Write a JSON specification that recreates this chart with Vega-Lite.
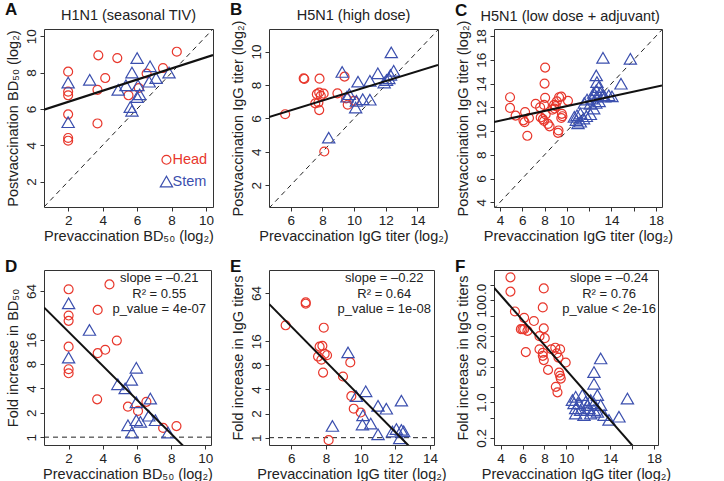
{
  "$schema": "https://vega.github.io/schema/vega-lite/v6.json",
  "background": "white",
  "padding": {"left": 4, "top": 0, "right": 5, "bottom": 0},
  "columns": 3,
  "spacing": {"row": 63, "column": 56},
  "bounds": "flush",
  "config": {
    "font": "Liberation Sans",
    "view": {"stroke": "#333", "strokeWidth": 1},
    "axis": {"domain": false, "grid": false, "tickColor": "#333", "tickSize": 4, "labelFontSize": 13.5, "labelColor": "#222", "titleFontSize": 14.5, "titleFontWeight": "normal", "titleColor": "#222", "labelPadding": 2, "titlePadding": 3, "labelFont": "Liberation Sans", "titleFont": "Liberation Sans", "labelFlush": false, "labelBound": false, "labelOverlap": false},
    "axisY": {"labelAngle": -90, "labelAlign": "center", "labelBaseline": "bottom", "titlePadding": 4},
    "title": {"fontSize": 17, "fontWeight": "bold", "anchor": "start", "frame": "bounds", "color": "#111", "baseline": "alphabetic", "font": "Liberation Sans"},
    "text": {"font": "Liberation Sans", "color": "#222"}
  },
  "datasets": {
    "A_pts": [
      {"pre": 2, "post": 8.05, "group": "Head"}, {"pre": 2, "post": 6.95, "group": "Head"}, {"pre": 2, "post": 6.75, "group": "Head"}, {"pre": 2, "post": 5.7, "group": "Head"}, {"pre": 2, "post": 4.4, "group": "Head"}, {"pre": 2, "post": 4.25, "group": "Head"}, {"pre": 3.75, "post": 8.95, "group": "Head"}, {"pre": 3.7, "post": 7.05, "group": "Head"}, {"pre": 3.7, "post": 5.2, "group": "Head"}, {"pre": 4.15, "post": 7.7, "group": "Head"}, {"pre": 4.85, "post": 8.8, "group": "Head"}, {"pre": 5.5, "post": 6.75, "group": "Head"}, {"pre": 6.1, "post": 7.15, "group": "Head"}, {"pre": 6.55, "post": 7.95, "group": "Head"}, {"pre": 7.5, "post": 8.25, "group": "Head"}, {"pre": 8.3, "post": 9.15, "group": "Head"},
      {"pre": 2, "post": 7.45, "group": "Stem"}, {"pre": 2, "post": 5.27, "group": "Stem"}, {"pre": 3.25, "post": 7.6, "group": "Stem"}, {"pre": 4.9, "post": 7.05, "group": "Stem"}, {"pre": 5.35, "post": 7.3, "group": "Stem"}, {"pre": 5.7, "post": 8.0, "group": "Stem"}, {"pre": 6.0, "post": 8.8, "group": "Stem"}, {"pre": 5.6, "post": 6.1, "group": "Stem"}, {"pre": 5.7, "post": 5.9, "group": "Stem"}, {"pre": 6.05, "post": 7.3, "group": "Stem"}, {"pre": 6.15, "post": 6.8, "group": "Stem"}, {"pre": 6.0, "post": 6.65, "group": "Stem"}, {"pre": 6.7, "post": 7.5, "group": "Stem"}, {"pre": 6.75, "post": 8.35, "group": "Stem"}, {"pre": 7.1, "post": 7.7, "group": "Stem"}, {"pre": 7.85, "post": 8.0, "group": "Stem"}
    ],
    "A_fit": [{"pre": 0.6, "post": 5.96}, {"pre": 10.4, "post": 8.97}],
    "A_diag": [{"pre": 0.6, "post": 0.6}, {"pre": 10.4, "post": 10.4}],
    "A_name": [{"label": "H1N1 (seasonal TIV)"}],
    "A_legend": [{"group": "Head"}, {"group": "Stem"}],
    "B_pts": [
      {"pre": 5.65, "post": 6.25, "group": "Head"}, {"pre": 6.82, "post": 8.4, "group": "Head"}, {"pre": 6.86, "post": 8.36, "group": "Head"}, {"pre": 7.82, "post": 8.38, "group": "Head"}, {"pre": 7.65, "post": 7.45, "group": "Head"}, {"pre": 7.8, "post": 7.55, "group": "Head"}, {"pre": 8.08, "post": 7.48, "group": "Head"}, {"pre": 7.9, "post": 7.35, "group": "Head"}, {"pre": 7.55, "post": 6.9, "group": "Head"}, {"pre": 7.75, "post": 6.95, "group": "Head"}, {"pre": 7.8, "post": 6.5, "group": "Head"}, {"pre": 8.95, "post": 7.5, "group": "Head"}, {"pre": 9.4, "post": 8.5, "group": "Head"}, {"pre": 9.5, "post": 7.2, "group": "Head"}, {"pre": 9.6, "post": 6.82, "group": "Head"}, {"pre": 10.0, "post": 7.05, "group": "Head"}, {"pre": 8.12, "post": 4.02, "group": "Head"},
      {"pre": 8.4, "post": 4.85, "group": "Stem"}, {"pre": 9.25, "post": 8.78, "group": "Stem"}, {"pre": 9.7, "post": 7.45, "group": "Stem"}, {"pre": 9.55, "post": 7.3, "group": "Stem"}, {"pre": 10.25, "post": 8.2, "group": "Stem"}, {"pre": 10.1, "post": 6.65, "group": "Stem"}, {"pre": 10.15, "post": 7.05, "group": "Stem"}, {"pre": 10.55, "post": 7.15, "group": "Stem"}, {"pre": 11.0, "post": 7.12, "group": "Stem"}, {"pre": 11.0, "post": 8.25, "group": "Stem"}, {"pre": 11.5, "post": 8.7, "group": "Stem"}, {"pre": 12.35, "post": 9.95, "group": "Stem"}, {"pre": 11.9, "post": 8.15, "group": "Stem"}, {"pre": 12.05, "post": 8.3, "group": "Stem"}, {"pre": 12.3, "post": 8.6, "group": "Stem"}, {"pre": 12.5, "post": 8.85, "group": "Stem"}, {"pre": 12.2, "post": 8.4, "group": "Stem"}
    ],
    "B_fit": [{"pre": 4.63, "post": 6.08}, {"pre": 15.3, "post": 9.2}],
    "B_diag": [{"pre": 4.63, "post": 0.63}, {"pre": 15.3, "post": 11.3}],
    "B_name": [{"label": "H5N1 (high dose)"}],
    "C_pts": [
      {"pre": 4.9, "post": 12.85, "group": "Head"}, {"pre": 4.9, "post": 11.95, "group": "Head"}, {"pre": 5.4, "post": 11.3, "group": "Head"}, {"pre": 6.25, "post": 11.6, "group": "Head"}, {"pre": 6.1, "post": 10.9, "group": "Head"}, {"pre": 6.2, "post": 10.75, "group": "Head"}, {"pre": 6.6, "post": 11.1, "group": "Head"}, {"pre": 6.45, "post": 9.6, "group": "Head"}, {"pre": 7.2, "post": 12.3, "group": "Head"}, {"pre": 7.6, "post": 12.0, "group": "Head"}, {"pre": 8.05, "post": 15.35, "group": "Head"}, {"pre": 8.0, "post": 14.0, "group": "Head"}, {"pre": 8.05, "post": 12.8, "group": "Head"}, {"pre": 7.95, "post": 12.2, "group": "Head"}, {"pre": 7.65, "post": 11.15, "group": "Head"}, {"pre": 7.85, "post": 11.0, "group": "Head"}, {"pre": 8.1, "post": 11.4, "group": "Head"}, {"pre": 7.95, "post": 10.85, "group": "Head"}, {"pre": 8.3, "post": 10.6, "group": "Head"}, {"pre": 8.45, "post": 10.4, "group": "Head"}, {"pre": 8.7, "post": 11.8, "group": "Head"}, {"pre": 8.85, "post": 12.2, "group": "Head"}, {"pre": 9.1, "post": 12.5, "group": "Head"}, {"pre": 9.3, "post": 12.85, "group": "Head"}, {"pre": 9.5, "post": 12.9, "group": "Head"}, {"pre": 8.9, "post": 11.9, "group": "Head"}, {"pre": 9.55, "post": 11.45, "group": "Head"}, {"pre": 9.6, "post": 11.25, "group": "Head"}, {"pre": 9.5, "post": 11.1, "group": "Head"}, {"pre": 9.25, "post": 10.05, "group": "Head"}, {"pre": 9.2, "post": 9.85, "group": "Head"}, {"pre": 10.1, "post": 12.55, "group": "Head"}, {"pre": 9.0, "post": 12.1, "group": "Head"},
      {"pre": 13.24, "post": 16.17, "group": "Stem"}, {"pre": 15.7, "post": 16.09, "group": "Stem"}, {"pre": 14.86, "post": 13.99, "group": "Stem"}, {"pre": 12.64, "post": 14.69, "group": "Stem"}, {"pre": 12.7, "post": 14.13, "group": "Stem"}, {"pre": 12.86, "post": 13.71, "group": "Stem"}, {"pre": 12.64, "post": 13.43, "group": "Stem"}, {"pre": 12.41, "post": 13.21, "group": "Stem"}, {"pre": 13.0, "post": 13.21, "group": "Stem"}, {"pre": 13.24, "post": 13.01, "group": "Stem"}, {"pre": 13.76, "post": 13.01, "group": "Stem"}, {"pre": 14.05, "post": 12.92, "group": "Stem"}, {"pre": 13.4, "post": 12.9, "group": "Stem"}, {"pre": 12.7, "post": 12.92, "group": "Stem"}, {"pre": 12.26, "post": 12.73, "group": "Stem"}, {"pre": 11.81, "post": 12.65, "group": "Stem"}, {"pre": 11.57, "post": 12.37, "group": "Stem"}, {"pre": 12.1, "post": 12.3, "group": "Stem"}, {"pre": 12.6, "post": 12.37, "group": "Stem"}, {"pre": 12.9, "post": 12.5, "group": "Stem"}, {"pre": 12.41, "post": 11.89, "group": "Stem"}, {"pre": 12.11, "post": 11.42, "group": "Stem"}, {"pre": 11.75, "post": 11.25, "group": "Stem"}, {"pre": 11.21, "post": 11.48, "group": "Stem"}, {"pre": 10.91, "post": 11.33, "group": "Stem"}, {"pre": 10.67, "post": 11.2, "group": "Stem"}, {"pre": 10.85, "post": 10.93, "group": "Stem"}, {"pre": 11.21, "post": 10.79, "group": "Stem"}, {"pre": 11.0, "post": 10.65, "group": "Stem"}, {"pre": 11.5, "post": 11.06, "group": "Stem"}
    ],
    "C_fit": [{"pre": 3.46, "post": 10.77}, {"pre": 18.54, "post": 13.84}],
    "C_diag": [{"pre": 3.4, "post": 3.4}, {"pre": 18.6, "post": 18.6}],
    "C_name": [{"label": "H5N1 (low dose + adjuvant)"}],
    "D_pts": [
      {"pre": 2, "fold": 67, "group": "Head"}, {"pre": 2, "fold": 31.8, "group": "Head"}, {"pre": 2, "fold": 27.3, "group": "Head"}, {"pre": 2, "fold": 13.1, "group": "Head"}, {"pre": 2, "fold": 6.9, "group": "Head"}, {"pre": 2, "fold": 6.15, "group": "Head"}, {"pre": 4.39, "fold": 77, "group": "Head"}, {"pre": 3.7, "fold": 37.3, "group": "Head"}, {"pre": 3.7, "fold": 10.9, "group": "Head"}, {"pre": 4.14, "fold": 12, "group": "Head"}, {"pre": 4.82, "fold": 15.6, "group": "Head"}, {"pre": 3.67, "fold": 2.93, "group": "Head"}, {"pre": 5.47, "fold": 2.38, "group": "Head"}, {"pre": 6.06, "fold": 2.11, "group": "Head"}, {"pre": 6.55, "fold": 2.73, "group": "Head"}, {"pre": 7.53, "fold": 1.3, "group": "Head"}, {"pre": 8.31, "fold": 1.37, "group": "Head"},
      {"pre": 2, "fold": 45, "group": "Stem"}, {"pre": 2, "fold": 9.6, "group": "Stem"}, {"pre": 3.22, "fold": 21.1, "group": "Stem"}, {"pre": 4.88, "fold": 4.5, "group": "Stem"}, {"pre": 5.31, "fold": 4.0, "group": "Stem"}, {"pre": 5.67, "fold": 5.1, "group": "Stem"}, {"pre": 5.96, "fold": 7.2, "group": "Stem"}, {"pre": 5.47, "fold": 1.4, "group": "Stem"}, {"pre": 5.7, "fold": 1.14, "group": "Stem"}, {"pre": 5.96, "fold": 2.7, "group": "Stem"}, {"pre": 6.2, "fold": 1.55, "group": "Stem"}, {"pre": 5.96, "fold": 1.62, "group": "Stem"}, {"pre": 6.69, "fold": 1.84, "group": "Stem"}, {"pre": 6.78, "fold": 3.0, "group": "Stem"}, {"pre": 7.08, "fold": 1.62, "group": "Stem"}, {"pre": 7.82, "fold": 1.14, "group": "Stem"}
    ],
    "D_fit": [{"pre": 0.56, "fold": 40}, {"pre": 10.33, "fold": 0.356}],
    "D_one": [{"pre": 0.56, "fold": 1}, {"pre": 10.33, "fold": 1}],
    "D_stats": [{"label": "slope = –0.21\nR² = 0.55\np_value = 4e-07"}],
    "E_pts": [
      {"pre": 5.67, "fold": 25.3, "group": "Head"}, {"pre": 6.83, "fold": 49, "group": "Head"}, {"pre": 6.83, "fold": 47, "group": "Head"}, {"pre": 7.87, "fold": 23.6, "group": "Head"}, {"pre": 7.63, "fold": 13.7, "group": "Head"}, {"pre": 7.79, "fold": 14.0, "group": "Head"}, {"pre": 7.54, "fold": 10.3, "group": "Head"}, {"pre": 7.73, "fold": 9.4, "group": "Head"}, {"pre": 8.06, "fold": 10.7, "group": "Head"}, {"pre": 7.92, "fold": 11.1, "group": "Head"}, {"pre": 7.83, "fold": 6.5, "group": "Head"}, {"pre": 8.98, "fold": 5.8, "group": "Head"}, {"pre": 9.4, "fold": 8.7, "group": "Head"}, {"pre": 9.46, "fold": 3.3, "group": "Head"}, {"pre": 9.6, "fold": 2.3, "group": "Head"}, {"pre": 10.0, "fold": 2.06, "group": "Head"}, {"pre": 8.15, "fold": 0.93, "group": "Head"},
      {"pre": 8.37, "fold": 1.4, "group": "Stem"}, {"pre": 9.27, "fold": 11.6, "group": "Stem"}, {"pre": 9.75, "fold": 3.3, "group": "Stem"}, {"pre": 10.29, "fold": 3.8, "group": "Stem"}, {"pre": 10.13, "fold": 1.9, "group": "Stem"}, {"pre": 10.1, "fold": 1.46, "group": "Stem"}, {"pre": 10.58, "fold": 1.5, "group": "Stem"}, {"pre": 11.0, "fold": 1.1, "group": "Stem"}, {"pre": 11.0, "fold": 2.5, "group": "Stem"}, {"pre": 11.48, "fold": 2.3, "group": "Stem"}, {"pre": 12.35, "fold": 2.9, "group": "Stem"}, {"pre": 11.83, "fold": 1.19, "group": "Stem"}, {"pre": 12.06, "fold": 1.28, "group": "Stem"}, {"pre": 12.35, "fold": 1.25, "group": "Stem"}, {"pre": 12.48, "fold": 1.2, "group": "Stem"}, {"pre": 12.25, "fold": 0.98, "group": "Stem"}
    ],
    "E_fit": [{"pre": 4.71, "fold": 46.8}, {"pre": 14.23, "fold": 0.38}],
    "E_one": [{"pre": 4.71, "fold": 1}, {"pre": 14.23, "fold": 1}],
    "E_stats": [{"label": "slope = –0.22\nR² = 0.64\np_value = 1e-08"}],
    "F_pts": [
      {"pre": 4.9, "fold": 280, "group": "Head"}, {"pre": 4.9, "fold": 147, "group": "Head"}, {"pre": 5.31, "fold": 60, "group": "Head"}, {"pre": 6.15, "fold": 45, "group": "Head"}, {"pre": 6.0, "fold": 27, "group": "Head"}, {"pre": 6.15, "fold": 27, "group": "Head"}, {"pre": 6.45, "fold": 25, "group": "Head"}, {"pre": 6.3, "fold": 9.6, "group": "Head"}, {"pre": 7.04, "fold": 39, "group": "Head"}, {"pre": 7.55, "fold": 19.7, "group": "Head"}, {"pre": 7.94, "fold": 170, "group": "Head"}, {"pre": 7.85, "fold": 72, "group": "Head"}, {"pre": 7.94, "fold": 28, "group": "Head"}, {"pre": 8.03, "fold": 18, "group": "Head"}, {"pre": 7.55, "fold": 10.9, "group": "Head"}, {"pre": 7.85, "fold": 9.3, "group": "Head"}, {"pre": 7.85, "fold": 8.1, "group": "Head"}, {"pre": 7.94, "fold": 6.7, "group": "Head"}, {"pre": 8.33, "fold": 4.3, "group": "Head"}, {"pre": 8.63, "fold": 10.9, "group": "Head"}, {"pre": 8.99, "fold": 11.7, "group": "Head"}, {"pre": 9.13, "fold": 9.1, "group": "Head"}, {"pre": 9.28, "fold": 7.5, "group": "Head"}, {"pre": 9.43, "fold": 10.9, "group": "Head"}, {"pre": 9.34, "fold": 3.8, "group": "Head"}, {"pre": 9.43, "fold": 3.3, "group": "Head"}, {"pre": 9.49, "fold": 2.9, "group": "Head"}, {"pre": 9.04, "fold": 2.0, "group": "Head"}, {"pre": 9.19, "fold": 1.56, "group": "Head"}, {"pre": 9.94, "fold": 6.0, "group": "Head"}, {"pre": 5.85, "fold": 27, "group": "Head"},
      {"pre": 13.13, "fold": 7.2, "group": "Stem"}, {"pre": 12.52, "fold": 3.9, "group": "Stem"}, {"pre": 12.52, "fold": 2.3, "group": "Stem"}, {"pre": 15.57, "fold": 1.18, "group": "Stem"}, {"pre": 10.85, "fold": 1.28, "group": "Stem"}, {"pre": 11.46, "fold": 1.38, "group": "Stem"}, {"pre": 12.83, "fold": 1.38, "group": "Stem"}, {"pre": 12.22, "fold": 1.1, "group": "Stem"}, {"pre": 10.7, "fold": 0.95, "group": "Stem"}, {"pre": 11.16, "fold": 0.95, "group": "Stem"}, {"pre": 11.76, "fold": 1.02, "group": "Stem"}, {"pre": 12.52, "fold": 0.95, "group": "Stem"}, {"pre": 13.13, "fold": 0.88, "group": "Stem"}, {"pre": 10.85, "fold": 0.76, "group": "Stem"}, {"pre": 11.3, "fold": 0.7, "group": "Stem"}, {"pre": 12.07, "fold": 0.76, "group": "Stem"}, {"pre": 12.52, "fold": 0.7, "group": "Stem"}, {"pre": 10.85, "fold": 0.6, "group": "Stem"}, {"pre": 11.61, "fold": 0.56, "group": "Stem"}, {"pre": 12.22, "fold": 0.6, "group": "Stem"}, {"pre": 13.44, "fold": 0.56, "group": "Stem"}, {"pre": 13.89, "fold": 0.45, "group": "Stem"}, {"pre": 14.8, "fold": 0.52, "group": "Stem"}, {"pre": 12.83, "fold": 0.65, "group": "Stem"}, {"pre": 11.92, "fold": 0.88, "group": "Stem"}, {"pre": 10.55, "fold": 1.1, "group": "Stem"}
    ],
    "F_fit": [{"pre": 3.4, "fold": 176}, {"pre": 18.36, "fold": 0.038}],
    "F_stats": [{"label": "slope = –0.24\nR² = 0.76\np_value < 2e-16"}]
  },
  "concat": [
    {
      "width": 169, "height": 178,
      "title": {"text": "A", "offset": -11},
      "layer": [
        {"data": {"name": "A_diag"}, "mark": {"type": "line", "clip": true, "color": "#222", "strokeWidth": 1, "strokeDash": [5, 4]},
         "encoding": {
           "x": {"field": "pre", "type": "quantitative", "scale": {"domain": [0.6, 10.4], "nice": false, "zero": false}, "axis": {"values": [2, 4, 6, 8, 10], "format": "d", "title": "Prevaccination BD₅₀ (log₂)"}},
           "y": {"field": "post", "type": "quantitative", "scale": {"domain": [0.6, 10.4], "nice": false, "zero": false}, "axis": {"values": [2, 4, 6, 8, 10], "format": "d", "title": "Postvaccination BD₅₀ (log₂)"}}}},
        {"data": {"name": "A_pts"}, "mark": {"type": "point", "filled": false, "strokeWidth": 1.2, "opacity": 1},
         "encoding": {
           "x": {"field": "pre", "type": "quantitative"},
           "y": {"field": "post", "type": "quantitative"},
           "color": {"field": "group", "type": "nominal", "scale": {"domain": ["Head", "Stem"], "range": ["#e8372c", "#3b4fae"]}, "legend": null},
           "shape": {"field": "group", "type": "nominal", "scale": {"domain": ["Head", "Stem"], "range": ["circle", "triangle-up"]}, "legend": null},
           "size": {"field": "group", "type": "nominal", "scale": {"domain": ["Head", "Stem"], "range": [80, 150]}, "legend": null}}},
        {"data": {"name": "A_fit"}, "mark": {"type": "line", "clip": true, "color": "#111", "strokeWidth": 2.3},
         "encoding": {"x": {"field": "pre", "type": "quantitative"}, "y": {"field": "post", "type": "quantitative"}}},
        {"data": {"name": "A_name"}, "mark": {"type": "text", "fontSize": 14.5, "baseline": "middle", "align": "center"},
         "encoding": {"x": {"datum": 5.5, "type": "quantitative"}, "y": {"datum": 11.1, "type": "quantitative"}, "text": {"field": "label"}}},
        {"data": {"name": "A_legend"}, "transform": [{"filter": "datum.group == 'Head'"}],
         "encoding": {"y": {"datum": 3.2, "type": "quantitative"}, "color": {"field": "group", "type": "nominal", "legend": null}},
         "layer": [
           {"mark": {"type": "point", "filled": false, "strokeWidth": 1.2, "opacity": 1},
            "encoding": {"x": {"datum": 7.7, "type": "quantitative"}, "shape": {"field": "group", "type": "nominal", "legend": null}, "size": {"field": "group", "type": "nominal", "legend": null}}},
           {"mark": {"type": "text", "fontSize": 14.5, "align": "left", "baseline": "middle"},
            "encoding": {"x": {"datum": 8.05, "type": "quantitative"}, "text": {"field": "group"}}}
         ]},
        {"data": {"name": "A_legend"}, "transform": [{"filter": "datum.group == 'Stem'"}],
         "encoding": {"y": {"datum": 2.0, "type": "quantitative"}, "color": {"field": "group", "type": "nominal", "legend": null}},
         "layer": [
           {"mark": {"type": "point", "filled": false, "strokeWidth": 1.2, "opacity": 1},
            "encoding": {"x": {"datum": 7.7, "type": "quantitative"}, "shape": {"field": "group", "type": "nominal", "legend": null}, "size": {"field": "group", "type": "nominal", "legend": null}}},
           {"mark": {"type": "text", "fontSize": 14.5, "align": "left", "baseline": "middle"},
            "encoding": {"x": {"datum": 8.05, "type": "quantitative"}, "text": {"field": "group"}}}
         ]}
      ]
    },
    {
      "width": 169, "height": 178,
      "title": {"text": "B", "offset": -11},
      "layer": [
        {"data": {"name": "B_diag"}, "mark": {"type": "line", "clip": true, "color": "#222", "strokeWidth": 1, "strokeDash": [5, 4]},
         "encoding": {
           "x": {"field": "pre", "type": "quantitative", "scale": {"domain": [4.63, 15.3], "nice": false, "zero": false}, "axis": {"values": [6, 8, 10, 12, 14], "format": "d", "title": "Prevaccination IgG titer (log₂)"}},
           "y": {"field": "post", "type": "quantitative", "scale": {"domain": [0.7, 11.35], "nice": false, "zero": false}, "axis": {"values": [2, 4, 6, 8, 10], "format": "d", "title": "Postvaccination IgG titer (log₂)"}}}},
        {"data": {"name": "B_pts"}, "mark": {"type": "point", "filled": false, "strokeWidth": 1.2, "opacity": 1},
         "encoding": {
           "x": {"field": "pre", "type": "quantitative"},
           "y": {"field": "post", "type": "quantitative"},
           "color": {"field": "group", "type": "nominal", "scale": {"domain": ["Head", "Stem"], "range": ["#e8372c", "#3b4fae"]}, "legend": null},
           "shape": {"field": "group", "type": "nominal", "scale": {"domain": ["Head", "Stem"], "range": ["circle", "triangle-up"]}, "legend": null},
           "size": {"field": "group", "type": "nominal", "scale": {"domain": ["Head", "Stem"], "range": [80, 150]}, "legend": null}}},
        {"data": {"name": "B_fit"}, "mark": {"type": "line", "clip": true, "color": "#111", "strokeWidth": 2},
         "encoding": {"x": {"field": "pre", "type": "quantitative"}, "y": {"field": "post", "type": "quantitative"}}},
        {"data": {"name": "B_name"}, "mark": {"type": "text", "fontSize": 14.5, "baseline": "middle", "align": "center"},
         "encoding": {"x": {"datum": 9.97, "type": "quantitative"}, "y": {"datum": 12.1, "type": "quantitative"}, "text": {"field": "label"}}}
      ]
    },
    {
      "width": 168, "height": 178,
      "title": {"text": "C", "offset": -11},
      "layer": [
        {"data": {"name": "C_diag"}, "mark": {"type": "line", "clip": true, "color": "#222", "strokeWidth": 1, "strokeDash": [5, 4]},
         "encoding": {
           "x": {"field": "pre", "type": "quantitative", "scale": {"domain": [3.46, 18.54], "nice": false, "zero": false}, "axis": {"values": [4, 6, 8, 10, 12, 14, 16, 18], "tickCount": 20, "format": "d", "labelExpr": "datum.value == 12 || datum.value == 16 ? '' : datum.label", "title": "Prevaccination IgG titer (log₂)"}},
           "y": {"field": "post", "type": "quantitative", "scale": {"domain": [3.6, 18.6], "nice": false, "zero": false}, "axis": {"values": [4, 6, 8, 10, 12, 14, 16, 18], "tickCount": 20, "format": "d", "title": "Postvaccination IgG titer (log₂)"}}}},
        {"data": {"name": "C_pts"}, "mark": {"type": "point", "filled": false, "strokeWidth": 1.2, "opacity": 1},
         "encoding": {
           "x": {"field": "pre", "type": "quantitative"},
           "y": {"field": "post", "type": "quantitative"},
           "color": {"field": "group", "type": "nominal", "scale": {"domain": ["Head", "Stem"], "range": ["#e8372c", "#3b4fae"]}, "legend": null},
           "shape": {"field": "group", "type": "nominal", "scale": {"domain": ["Head", "Stem"], "range": ["circle", "triangle-up"]}, "legend": null},
           "size": {"field": "group", "type": "nominal", "scale": {"domain": ["Head", "Stem"], "range": [80, 150]}, "legend": null}}},
        {"data": {"name": "C_fit"}, "mark": {"type": "line", "clip": true, "color": "#111", "strokeWidth": 2},
         "encoding": {"x": {"field": "pre", "type": "quantitative"}, "y": {"field": "post", "type": "quantitative"}}},
        {"data": {"name": "C_name"}, "mark": {"type": "text", "fontSize": 14.5, "baseline": "middle", "align": "center"},
         "encoding": {"x": {"datum": 10.3, "type": "quantitative"}, "y": {"datum": 19.65, "type": "quantitative"}, "text": {"field": "label"}}}
      ]
    },
    {
      "width": 167, "height": 175,
      "title": {"text": "D", "offset": -6},
      "layer": [
        {"data": {"name": "D_one"}, "mark": {"type": "line", "clip": true, "color": "#222", "strokeWidth": 1, "strokeDash": [5, 4]},
         "encoding": {
           "x": {"field": "pre", "type": "quantitative", "scale": {"domain": [0.56, 10.33], "nice": false, "zero": false}, "axis": {"values": [2, 4, 6, 8, 10], "format": "d", "title": "Prevaccination BD₅₀ (log₂)"}},
           "y": {"field": "fold", "type": "quantitative", "scale": {"type": "log", "domain": [0.8, 116], "nice": false}, "axis": {"values": [1, 2, 4, 8, 16, 64], "tickCount": 20, "format": "d", "title": "Fold increase in BD₅₀"}}}},
        {"data": {"name": "D_pts"}, "mark": {"type": "point", "filled": false, "strokeWidth": 1.2, "opacity": 1},
         "encoding": {
           "x": {"field": "pre", "type": "quantitative"},
           "y": {"field": "fold", "type": "quantitative"},
           "color": {"field": "group", "type": "nominal", "scale": {"domain": ["Head", "Stem"], "range": ["#e8372c", "#3b4fae"]}, "legend": null},
           "shape": {"field": "group", "type": "nominal", "scale": {"domain": ["Head", "Stem"], "range": ["circle", "triangle-up"]}, "legend": null},
           "size": {"field": "group", "type": "nominal", "scale": {"domain": ["Head", "Stem"], "range": [80, 150]}, "legend": null}}},
        {"data": {"name": "D_fit"}, "mark": {"type": "line", "clip": true, "color": "#111", "strokeWidth": 2},
         "encoding": {"x": {"field": "pre", "type": "quantitative"}, "y": {"field": "fold", "type": "quantitative"}}},
        {"data": {"name": "D_stats"}, "mark": {"type": "text", "fontSize": 13, "baseline": "top", "align": "center", "lineBreak": "\n", "lineHeight": 15.5, "dy": 2},
         "encoding": {"x": {"datum": 7.3, "type": "quantitative"}, "y": {"datum": 116, "type": "quantitative"}, "text": {"field": "label"}}}
      ]
    },
    {
      "width": 165, "height": 175,
      "title": {"text": "E", "offset": -6},
      "layer": [
        {"data": {"name": "E_one"}, "mark": {"type": "line", "clip": true, "color": "#222", "strokeWidth": 1, "strokeDash": [5, 4]},
         "encoding": {
           "x": {"field": "pre", "type": "quantitative", "scale": {"domain": [4.71, 14.23], "nice": false, "zero": false}, "axis": {"values": [6, 8, 10, 12, 14], "format": "d", "title": "Prevaccination IgG titer (log₂)"}},
           "y": {"field": "fold", "type": "quantitative", "scale": {"type": "log", "domain": [0.81, 124], "nice": false}, "axis": {"values": [1, 2, 4, 8, 16, 64], "tickCount": 20, "format": "d", "title": "Fold increase in IgG titers"}}}},
        {"data": {"name": "E_pts"}, "mark": {"type": "point", "filled": false, "strokeWidth": 1.2, "opacity": 1},
         "encoding": {
           "x": {"field": "pre", "type": "quantitative"},
           "y": {"field": "fold", "type": "quantitative"},
           "color": {"field": "group", "type": "nominal", "scale": {"domain": ["Head", "Stem"], "range": ["#e8372c", "#3b4fae"]}, "legend": null},
           "shape": {"field": "group", "type": "nominal", "scale": {"domain": ["Head", "Stem"], "range": ["circle", "triangle-up"]}, "legend": null},
           "size": {"field": "group", "type": "nominal", "scale": {"domain": ["Head", "Stem"], "range": [80, 150]}, "legend": null}}},
        {"data": {"name": "E_fit"}, "mark": {"type": "line", "clip": true, "color": "#111", "strokeWidth": 2},
         "encoding": {"x": {"field": "pre", "type": "quantitative"}, "y": {"field": "fold", "type": "quantitative"}}},
        {"data": {"name": "E_stats"}, "mark": {"type": "text", "fontSize": 13, "baseline": "top", "align": "center", "lineBreak": "\n", "lineHeight": 15.5, "dy": 2},
         "encoding": {"x": {"datum": 11.36, "type": "quantitative"}, "y": {"datum": 124, "type": "quantitative"}, "text": {"field": "label"}}}
      ]
    },
    {
      "width": 164, "height": 175,
      "title": {"text": "F", "offset": -6},
      "layer": [
        {"data": {"name": "F_pts"}, "mark": {"type": "point", "filled": false, "strokeWidth": 1.2, "opacity": 1},
         "encoding": {
           "x": {"field": "pre", "type": "quantitative", "scale": {"domain": [3.4, 18.36], "nice": false, "zero": false}, "axis": {"values": [4, 6, 8, 10, 12, 14, 16, 18], "tickCount": 20, "format": "d", "labelExpr": "datum.value == 12 || datum.value == 16 ? '' : datum.label", "title": "Prevaccination IgG titer (log₂)"}},
           "y": {"field": "fold", "type": "quantitative", "scale": {"type": "log", "domain": [0.145, 390], "nice": false}, "axis": {"values": [0.2, 0.5, 1, 2, 5, 10, 20, 50, 100, 200], "tickCount": 20, "labelExpr": "indexof([0.2, 1, 5, 20, 100], datum.value) >= 0 ? format(datum.value, '.1f') : ''", "title": "Fold increase in IgG titers"}},
           "color": {"field": "group", "type": "nominal", "scale": {"domain": ["Head", "Stem"], "range": ["#e8372c", "#3b4fae"]}, "legend": null},
           "shape": {"field": "group", "type": "nominal", "scale": {"domain": ["Head", "Stem"], "range": ["circle", "triangle-up"]}, "legend": null},
           "size": {"field": "group", "type": "nominal", "scale": {"domain": ["Head", "Stem"], "range": [80, 150]}, "legend": null}}},
        {"data": {"name": "F_fit"}, "mark": {"type": "line", "clip": true, "color": "#111", "strokeWidth": 2},
         "encoding": {"x": {"field": "pre", "type": "quantitative"}, "y": {"field": "fold", "type": "quantitative"}}},
        {"data": {"name": "F_stats"}, "mark": {"type": "text", "fontSize": 13, "baseline": "top", "align": "center", "lineBreak": "\n", "lineHeight": 15.5, "dy": 2},
         "encoding": {"x": {"datum": 13.9, "type": "quantitative"}, "y": {"datum": 390, "type": "quantitative"}, "text": {"field": "label"}}}
      ]
    }
  ]
}
